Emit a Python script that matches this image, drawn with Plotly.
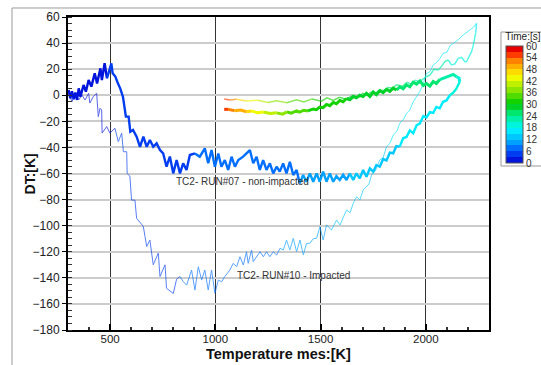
import plotly.graph_objects as go

# ---------------- data ----------------
X_RANGE = [300, 2300]
Y_RANGE = [-180, 60]
X_TICKS = [500, 1000, 1500, 2000]
Y_TICKS = [-180, -160, -140, -120, -100, -80, -60, -40, -20, 0, 20, 40, 60]
TIME_TICKS = [0, 6, 12, 18, 24, 30, 36, 42, 48, 54, 60]

# colour of each 3-s band of the Time legend, from 0-3 s up to 57-60 s
BAND_COLORS = [
    "rgb(0,20,220)", "rgb(0,60,240)", "rgb(0,110,255)", "rgb(0,160,255)",
    "rgb(0,200,255)", "rgb(0,235,255)", "rgb(0,245,220)", "rgb(0,240,170)",
    "rgb(0,230,110)", "rgb(0,210,40)", "rgb(20,210,0)", "rgb(80,220,0)",
    "rgb(140,230,0)", "rgb(190,240,0)", "rgb(240,250,0)", "rgb(255,220,0)",
    "rgb(255,175,0)", "rgb(255,130,0)", "rgb(255,60,0)", "rgb(230,0,0)",
]

# rows: [Temperature mes (K), DT (K), time (s)]
RUN07_HEAT = [
    [303, 4, 0.2], [311, -2.4, 0.4], [319, 3, 0.6], [327, -3, 0.8], [335, 2, 1.0], [343, -3.6, 1.1],
    [351, 5.3, 1.3], [359, -1.1, 1.4], [374, 7.9, 1.6], [385, 2.8, 1.8], [398, 11.7, 2.0], [411, 6.6, 2.1],
    [427, 16.8, 2.3], [438, 9.1, 2.4], [454, 20.6, 2.6], [461, 11.7, 2.7], [474, 24.5, 2.9], [485, 13, 3.0],
    [506, 24.5, 3.2], [512, 16.8, 3.3], [525, 14.3, 3.4], [537, 9.1, 3.5], [548, 5.3, 3.6], [561, -1.1, 3.7],
    [569, -11.3, 3.8], [575, -16.4, 3.9], [588, -16.4, 4.0], [596, -28, 4.1], [609, -26.6, 4.2],
    [626, -31.8, 4.3], [642, -39.5, 4.4], [658, -31.8, 4.5], [674, -39.5, 4.6], [689, -34.3, 4.7],
    [705, -39.5, 4.8], [721, -36.9, 4.9], [737, -42, 5.0], [752, -44.5, 5.1], [768, -54.8, 5.2],
    [784, -47, 5.3], [800, -59.9, 5.4], [816, -49.7, 5.5], [832, -59.9, 5.6], [847, -52.2, 5.7],
    [863, -57.3, 5.8], [879, -45.8, 5.9], [903, -44.6, 6.0], [926, -47.1, 6.1], [950, -40.7, 6.2],
    [966, -52.2, 6.3], [982, -42, 6.4], [998, -54.8, 6.5], [1014, -44.6, 6.6], [1029, -54.8, 6.7],
    [1045, -49.7, 6.8], [1061, -57.3, 6.9], [1077, -47.1, 7.0], [1093, -54.8, 7.1], [1109, -49.7, 7.2],
    [1132, -47.1, 7.3], [1164, -42, 7.5], [1180, -52.2, 7.6], [1196, -47.1, 7.7], [1211, -57.3, 7.8],
    [1227, -49.7, 7.9], [1243, -57.3, 8.0], [1259, -52.2, 8.1], [1275, -59.9, 8.2], [1291, -54.8, 8.3],
    [1306, -58.6, 8.4], [1322, -52.2, 8.5], [1338, -59.9, 8.6], [1354, -51, 8.7], [1370, -61.2, 8.8],
    [1386, -57.3, 8.9], [1401, -67.6, 9.0], [1417, -61.2, 9.2], [1433, -66.3, 9.4], [1449, -59.9, 9.6],
    [1465, -66.3, 9.8], [1481, -59.9, 10.0], [1496, -66.3, 10.2], [1512, -58.6, 10.4], [1528, -66.3, 10.6],
    [1544, -59.9, 10.8], [1560, -66.3, 11.0], [1575, -62, 11.2], [1591, -65, 11.4], [1607, -61, 11.6],
    [1623, -65, 11.8], [1639, -59.9, 12.0], [1655, -65, 12.2], [1670, -59.9, 12.4], [1686, -63.7, 12.6],
    [1702, -57.3, 12.8], [1718, -62.5, 13.0], [1734, -56, 13.2], [1750, -58.6, 13.4], [1765, -53.5, 13.6],
    [1781, -54.8, 13.8], [1797, -49, 14.0], [1813, -50, 14.2], [1829, -44, 14.4], [1845, -44.5, 14.6],
    [1860, -39, 14.8], [1876, -39.4, 15.0], [1892, -33, 15.2], [1908, -32, 15.4], [1924, -27, 15.6],
    [1940, -29.2, 15.8], [1956, -23, 16.0], [1972, -21.5, 16.2], [1988, -16, 16.4], [2003, -17, 16.6],
    [2019, -13, 16.8], [2035, -13.5, 17.0], [2050, -9, 17.2], [2066, -10, 17.4], [2082, -5, 17.6],
    [2098, -4, 17.8], [2114, 0, 18.0], [2130, 2, 18.3], [2145, 5, 18.6], [2153, 7.9, 19.0], [2161, 10.4, 19.5],
]
RUN07_COOL = [
    [2158, 13, 20.5], [2146, 14.2, 21.5], [2130, 16, 22.0], [2122, 15.5, 22.5], [2105, 14.5, 23.0],
    [2090, 14, 23.3], [2082, 13, 23.6], [2066, 12, 24.0], [2050, 9, 24.3], [2035, 10.5, 24.6],
    [2019, 7, 24.9], [2003, 9, 25.2], [1988, 7.5, 25.4], [1972, 11, 25.6], [1956, 8.5, 25.8],
    [1940, 10, 26.0], [1924, 6.5, 26.2], [1908, 8, 26.4], [1892, 5, 26.6], [1876, 6.5, 26.8],
    [1861, 4, 27.0], [1845, 5.5, 27.2], [1829, 3, 27.4], [1813, 4.5, 27.6], [1797, 2, 27.8],
    [1781, 3.5, 28.0], [1765, 0.5, 28.2], [1750, 2.5, 28.4], [1734, -1, 28.6], [1718, 1.5, 28.8],
    [1702, -1, 29.0], [1686, 0, 29.2], [1670, -2, 29.4], [1655, -1, 29.6], [1639, -3.5, 29.8],
    [1623, -2.5, 30.0], [1607, -5, 30.2], [1591, -4, 30.4], [1575, -6.5, 30.6], [1560, -5.5, 30.8],
    [1544, -8, 31.0], [1528, -7, 31.3], [1512, -9.5, 31.6], [1496, -9, 31.9], [1480, -11, 32.2],
    [1465, -10.5, 32.5], [1440, -12, 33.0], [1420, -11.5, 33.5], [1400, -13, 34.0], [1386, -12, 34.5],
    [1360, -13.8, 35.5], [1340, -12.8, 36.5], [1320, -14.5, 37.5], [1291, -13.5, 39.0], [1260, -14, 40.5],
    [1228, -12.8, 42.0], [1200, -13.4, 44.0], [1170, -12, 46.0], [1148, -12.6, 48.0], [1120, -11.4, 50.5],
    [1090, -11.8, 53.0], [1060, -10.8, 56.0], [1042, -10.8, 59.0],
]
RUN10_HEAT = [
    [303, 1.5, 0.2], [319, -4.9, 0.5], [335, 1.5, 0.8], [351, -3.6, 1.0], [366, 0.2, 1.2], [381, -3.6, 1.4],
    [398, 1.5, 1.6], [404, -6, 1.7], [420, -1, 1.9], [436, 1.5, 2.1], [444, -16.4, 2.2], [452, -10, 2.3],
    [460, -11.3, 2.4], [462, -29, 2.5], [484, -24, 2.7], [499, -29, 2.9], [523, -25.3, 3.1], [539, -35.6, 3.3],
    [555, -29, 3.4], [563, -43.3, 3.5], [579, -43.3, 3.7], [581, -60, 3.8], [594, -62, 3.9], [602, -80.4, 4.0],
    [618, -80.4, 4.2], [626, -94.4, 4.3], [650, -99, 4.5], [658, -100.8, 4.6], [666, -108.5, 4.7],
    [674, -116, 4.8], [689, -111, 4.9], [705, -130, 5.0], [729, -121, 5.2], [737, -139, 5.3],
    [761, -130, 5.5], [768, -148, 5.6], [800, -152, 5.8], [816, -141, 5.9], [832, -139, 6.0],
    [848, -143, 6.1], [864, -145.6, 6.2], [887, -134, 6.3], [903, -149.4, 6.4], [919, -131.5, 6.5],
    [935, -141.7, 6.6], [950, -134, 6.7], [966, -149.3, 6.8], [982, -134, 6.9], [998, -151.9, 7.0],
    [1014, -141.7, 7.1], [1030, -143, 7.2], [1045, -139, 7.3], [1069, -134, 7.4], [1085, -128.9, 7.5],
    [1101, -131.5, 7.6], [1117, -123.8, 7.7], [1133, -130.2, 7.8], [1148, -120, 7.9], [1156, -128.9, 8.0],
    [1172, -118.7, 8.1], [1180, -127.6, 8.2], [1212, -120, 8.4], [1228, -123.8, 8.5], [1243, -120, 8.6],
    [1259, -123.8, 8.7], [1275, -120, 8.8], [1291, -122.5, 8.9], [1307, -117.4, 9.0], [1323, -118.7, 9.2],
    [1338, -111, 9.4], [1354, -118.7, 9.6], [1370, -109.7, 9.8], [1386, -120, 10.0], [1402, -111, 10.2],
    [1418, -122.5, 10.4], [1433, -113.6, 10.6], [1449, -113.5, 10.8], [1465, -110, 11.0], [1481, -109.7, 11.2],
    [1497, -100.8, 11.4], [1512, -111, 11.6], [1528, -99.5, 11.8], [1552, -103.3, 12.0], [1576, -95.6, 12.2],
    [1592, -99.5, 12.4], [1623, -88, 12.6], [1640, -90, 12.8], [1655, -82.9, 13.0], [1671, -77.8, 13.2],
    [1687, -80.3, 13.4], [1702, -72.6, 13.6], [1718, -70.1, 13.8], [1730, -68, 14.0], [1742, -61.1, 14.2],
    [1760, -58, 14.4], [1781, -49.6, 14.6], [1797, -48, 14.8], [1813, -39.4, 15.0], [1829, -37, 15.2],
    [1845, -30.5, 15.4], [1861, -28, 15.6], [1876, -21.5, 15.8], [1892, -19, 16.0], [1908, -13.9, 16.1],
    [1924, -11.3, 16.2], [1940, -5, 16.3], [1956, -1.1, 16.4], [1972, 3, 16.5], [1988, 9, 16.6],
    [2003, 16.8, 16.7], [2019, 18, 16.8], [2035, 23.2, 16.9], [2050, 25, 17.0], [2066, 28, 17.1],
    [2082, 32.1, 17.2], [2100, 33, 17.3], [2115, 38, 17.4], [2130, 39.8, 17.5], [2150, 42, 17.6],
    [2177, 46.2, 17.7], [2195, 48, 17.8], [2209, 50, 17.85], [2225, 52, 17.9], [2241, 55.1, 17.95],
]
RUN10_COOL = [
    [2237, 48, 18.3], [2233, 43.6, 18.6], [2225, 38, 18.9], [2217, 33.4, 19.2], [2205, 29, 19.5],
    [2193, 25.7, 19.8], [2185, 25.8, 20.0], [2170, 29, 20.2], [2153, 28.3, 20.4], [2138, 24, 20.6],
    [2122, 23.2, 20.8], [2106, 27, 21.0], [2090, 25.8, 21.2], [2074, 22, 21.4], [2058, 19.4, 21.6],
    [2040, 20, 21.8], [2019, 15.5, 22.0], [2000, 14, 22.3], [1985, 12, 22.6], [1971, 10.4, 22.9],
    [1950, 11.5, 23.3], [1930, 8.5, 23.7], [1910, 10, 24.1], [1890, 7, 24.5], [1861, 8, 25.0],
    [1840, 5.5, 25.4], [1820, 6, 25.8], [1800, 3.5, 26.2], [1782, 4, 26.6], [1760, 1.5, 27.0],
    [1740, 2.5, 27.4], [1720, 0, 27.8], [1700, 1.5, 28.2], [1680, -1.5, 28.6], [1655, 0, 29.0],
    [1620, -3, 29.6], [1590, -1.5, 30.2], [1560, -4, 30.8], [1530, -2, 31.4], [1504, -4.5, 32.0],
    [1460, -2.8, 33.0], [1420, -5.2, 34.0], [1386, -3.5, 35.0], [1340, -5.8, 36.5], [1291, -4.2, 38.5],
    [1250, -5.5, 40.5], [1200, -3.8, 43.0], [1148, -4.4, 46.5], [1100, -3, 51.0], [1070, -3.6, 55.0],
    [1042, -2.9, 59.0],
]

LABEL_RUN07 = "TC2- RUN#07 - non-impacted"
LABEL_RUN10 = "TC2- RUN#10 - Impacted"
LABEL_RUN07_POS = [803, -65.8]
LABEL_RUN10_POS = [1093, -137.9]
X_TITLE = "<b>Temperature mes:[K]</b>"
Y_TITLE = "<b>DT:[K]</b>"

# ---------------- figure ----------------
FONT = "Liberation Sans, Arial, sans-serif"


def band(t):
    return max(0, min(len(BAND_COLORS) - 1, int(t // 3)))


fig = go.Figure()


def add_path(rows, width, opacity):
    xs = [r[0] for r in rows]
    ys = [r[1] for r in rows]
    ts = [r[2] for r in rows]
    n = len(rows)
    i = 0
    while i < n - 1:
        b = band(ts[i])
        j = i
        while j < n - 1 and band(ts[j]) == b:
            j += 1
        fig.add_trace(go.Scatter(
            x=xs[i:j + 1], y=ys[i:j + 1], mode="lines",
            line=dict(color=BAND_COLORS[b], width=width),
            opacity=opacity, hoverinfo="skip", showlegend=False))
        i = j


add_path(RUN10_HEAT, 1.0, 0.65)
add_path(RUN10_HEAT[-1:] + RUN10_COOL, 1.5, 0.65)
add_path(RUN07_HEAT, 2.4, 1.0)
add_path(RUN07_HEAT[-1:] + RUN07_COOL, 3.0, 1.0)

nb = len(BAND_COLORS)
cscale = []
for k, c in enumerate(BAND_COLORS):
    cscale.append([k / nb, c])
    cscale.append([(k + 1) / nb, c])

fig.add_trace(go.Scatter(
    x=[X_RANGE[0] - 500], y=[Y_RANGE[0] - 500], mode="markers",
    marker=dict(color=[0], cmin=0, cmax=60, colorscale=cscale, showscale=True, opacity=0,
                colorbar=dict(
                    title=dict(text="Time:[s]", side="top", font=dict(size=10, color="#222", family=FONT)),
                    x=1.040, xanchor="left", y=0.746, yanchor="middle",
                    len=0.425, lenmode="fraction", thickness=17, thicknessmode="pixels",
                    tickvals=TIME_TICKS, ticks="", tickfont=dict(size=10, color="#333", family=FONT),
                    outlinewidth=1, outlinecolor="#555", xpad=0, ypad=0, borderwidth=0)),
    hoverinfo="skip", showlegend=False))

fig.add_annotation(x=LABEL_RUN07_POS[0], y=LABEL_RUN07_POS[1], text=LABEL_RUN07, showarrow=False,
                   xanchor="left", yanchor="middle", font=dict(size=10, color="#333", family=FONT))
fig.add_annotation(x=LABEL_RUN10_POS[0], y=LABEL_RUN10_POS[1], text=LABEL_RUN10, showarrow=False,
                   xanchor="left", yanchor="middle", font=dict(size=10, color="#333", family=FONT))

# axis titles
fig.add_annotation(xref="paper", yref="paper", x=0.5, y=-0.078, text=X_TITLE, showarrow=False,
                   xanchor="center", yanchor="middle", font=dict(size=14.5, color="#111", family=FONT))
fig.add_annotation(xref="paper", yref="paper", x=-0.0903, y=0.5, text=Y_TITLE, showarrow=False,
                   textangle=-90, xanchor="center", yanchor="middle",
                   font=dict(size=14, color="#111", family=FONT))

# outer frame and legend box
fig.add_shape(type="rect", xref="paper", yref="paper", x0=-0.133, x1=1.3, y0=-0.3, y1=1.0288,
              line=dict(color="#9a9a9a", width=1), layer="below")
fig.add_shape(type="rect", xref="paper", yref="paper", x0=1.0285, x1=1.3, y0=0.524, y1=0.952,
              line=dict(color="#9a9a9a", width=1), fillcolor="white", layer="below")

fig.update_layout(
    width=541, height=365,
    margin=dict(l=68, r=52, t=17, b=35, autoexpand=False),
    paper_bgcolor="white", plot_bgcolor="white",
    font=dict(family=FONT, color="#222"),
    showlegend=False,
    xaxis=dict(
        range=X_RANGE, tickvals=X_TICKS, showgrid=True, gridcolor="#333", gridwidth=1,
        zeroline=False, showline=True, mirror=True, linecolor="black", linewidth=2,
        ticks="inside", ticklen=6, tickwidth=2, tickcolor="black", automargin=False,
        ticklabelstandoff=-3,
        minor=dict(dtick=100, ticks="inside", ticklen=3, tickcolor="#333", showgrid=False),
        tickfont=dict(size=11.5, color="#222", family=FONT),
    ),
    yaxis=dict(
        range=Y_RANGE, tickvals=Y_TICKS, showgrid=True, gridcolor="#cccccc", gridwidth=2,
        zeroline=False, showline=True, mirror=True, linecolor="black", linewidth=2,
        ticks="outside", ticklen=4, tickwidth=1, tickcolor="black", automargin=False,
        minor=dict(dtick=5, ticks="inside", ticklen=4, tickcolor="#333", showgrid=False),
        tickfont=dict(size=12, color="#222", family=FONT),
    ),
)

fig.write_html("out.html", config={"displayModeBar": False},
               post_script="document.body.style.margin='0px';")
